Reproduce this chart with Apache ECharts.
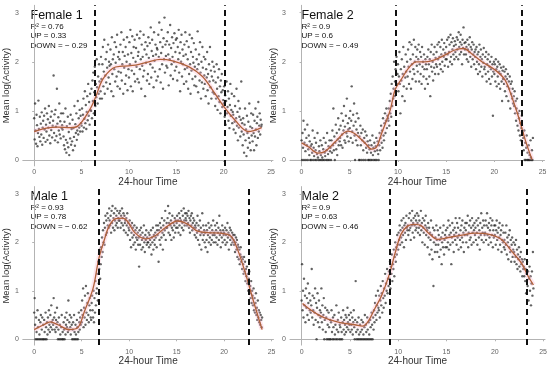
<!DOCTYPE html>
<html><head><meta charset="utf-8">
<script src="https://cdn.jsdelivr.net/npm/echarts@6/dist/echarts.min.js"></script>
<style>html,body{margin:0;padding:0;background:#fff}#c{width:550px;height:367px}</style>
</head><body><div id="c"></div>
<script>
// Panel titles and stats
const panelTitles = ["Female 1", "Female 2", "Male 1", "Male 2"];
const r2Values = ["0.76", "0.9", "0.93", "0.9"];
const upValues = ["0.33", "0.6", "0.78", "0.63"];
const downValues = ["0.29", "0.49", "0.62", "0.46"];
const xTicks = [0, 5, 10, 15, 20, 25];
const yTicks = [0, 1, 2, 3];
const timeStep = 0.05; // hours between successive samples

// dashed change-point lines (hours)
const cutFemale1 = [6.44, 20.06];
const cutFemale2 = [9.75, 22.82];
const cutMale1 = [6.78, 22.58];
const cutMale2 = [9.14, 23.28];

// smooth fits [hour, value]
const fitFemale1 = [[0,0.58],[1.3,0.65],[2.5,0.67],[3.8,0.66],[4.6,0.69],[5.85,1.02],[6.5,1.29],[7.2,1.63],[8.3,1.87],[9.3,1.91],[10.7,1.93],[12.1,2.0],[13.3,2.05],[14.6,2.02],[16.3,1.9],[17.7,1.71],[18.7,1.46],[20,1.09],[21.2,0.81],[22.6,0.58],[24,0.66]];
const fitFemale2 = [[0,0.35],[0.7,0.27],[1.7,0.14],[2.4,0.17],[3.5,0.37],[4.8,0.59],[5.5,0.54],[6.6,0.34],[7.3,0.22],[7.8,0.27],[8.3,0.54],[9.2,1.02],[9.7,1.43],[10.4,1.66],[11.1,1.87],[11.9,2.0],[12.8,2.0],[13.8,2.04],[14.9,2.14],[15.9,2.24],[16.8,2.27],[17.6,2.17],[18.7,2.0],[20.1,1.83],[21.1,1.63],[21.8,1.29],[22.5,0.88],[23.2,0.41],[23.9,0.01]];
const fitMale1 = [[0,0.2],[1,0.3],[1.7,0.36],[2.5,0.3],[3.7,0.2],[4.6,0.24],[5.3,0.58],[6.2,1.05],[6.8,1.66],[7.4,2.06],[7.9,2.34],[8.6,2.49],[9.3,2.5],[9.8,2.44],[10.6,2.2],[11.7,2.07],[12.7,2.13],[13.8,2.3],[15.1,2.44],[16.2,2.37],[17.2,2.23],[18.3,2.2],[19.6,2.19],[20.7,2.13],[21.4,1.86],[22.2,1.39],[23.1,0.78],[24,0.2]];
const fitMale2 = [[0.1,0.74],[0.7,0.64],[1.7,0.51],[2.8,0.41],[4.1,0.34],[5.5,0.3],[6.3,0.27],[6.9,0.37],[7.6,0.64],[8.3,0.91],[9.1,1.35],[9.7,1.79],[10.3,2.17],[11,2.34],[11.7,2.37],[12.4,2.34],[13.1,2.2],[14.1,2.06],[15.2,2.1],[16.6,2.15],[17.9,2.19],[19.3,2.17],[20.7,2.06],[21.7,1.83],[22.8,1.56],[23.4,1.32],[24,1.12]];

// Activity samples, one row per hour (every 0.05 h), plus final value at 24 h
const actFemale1 = [
0.85,0.42,1.15,0.60,0.33,0.92,0.71,0.28,0.55,1.21,0.63,0.47,0.88,0.38,0.74,0.52,0.97,0.31,0.66,0.80,
0.45,0.90,0.62,1.05,0.37,0.72,0.58,0.95,0.41,0.83,0.66,1.10,0.50,0.76,0.34,0.88,0.61,0.99,0.46,0.70,
0.80,1.72,0.55,0.93,0.40,1.02,0.68,0.49,1.45,0.74,0.36,0.87,0.60,1.15,0.52,0.79,0.44,0.95,0.65,0.71,
0.62,0.95,0.48,0.30,0.78,0.22,1.05,0.41,0.15,0.69,0.35,0.88,0.26,0.57,0.10,0.74,0.44,0.92,0.31,0.63,
0.38,0.82,0.20,0.65,0.47,1.10,0.29,0.73,0.55,0.95,0.41,0.60,1.20,0.52,0.85,0.66,1.02,0.58,0.90,0.75,
0.70,1.05,0.58,0.92,1.25,0.66,0.84,1.40,0.75,1.12,0.63,0.98,1.30,0.81,1.55,0.90,1.18,0.72,1.35,1.02,
1.00,1.45,0.85,1.62,1.20,1.78,0.95,1.38,1.90,1.10,1.55,1.28,2.05,1.48,1.15,1.70,1.35,1.95,1.60,1.25,
1.40,2.10,1.65,1.25,1.95,2.30,1.50,1.80,2.45,1.35,1.72,2.05,1.58,2.20,1.88,1.45,2.35,1.68,2.00,1.92,
1.55,2.25,1.95,1.40,2.50,1.75,2.05,1.30,2.15,1.85,2.40,1.60,1.98,2.30,1.70,2.55,1.50,2.10,1.80,2.20,
2.05,1.45,2.35,1.78,2.60,1.62,1.95,2.20,1.35,2.45,1.88,2.12,1.55,2.30,1.72,2.00,2.50,1.42,2.15,1.85,
1.68,2.40,1.95,2.65,1.50,2.18,1.82,2.52,1.40,2.08,2.30,1.75,2.45,1.60,2.00,2.28,1.90,2.55,1.65,2.12,
2.20,1.58,2.48,1.85,2.62,2.05,1.45,2.35,1.92,2.10,1.70,2.55,1.82,2.25,1.30,2.40,1.98,2.15,1.62,2.32,
1.75,2.50,2.08,1.55,2.38,1.95,2.70,1.68,2.22,2.45,1.88,2.12,1.48,2.60,2.02,1.80,2.35,2.15,1.62,2.28,
2.25,1.70,2.55,2.10,2.80,1.85,2.40,1.58,2.18,2.65,1.95,2.30,1.45,2.48,2.05,2.90,1.78,2.35,2.12,1.92,
2.42,1.88,2.60,2.15,1.52,2.35,2.05,2.75,1.72,2.28,1.95,2.50,2.10,1.65,2.38,2.00,2.58,1.82,2.20,2.45,
1.90,2.48,1.62,2.30,2.05,2.65,1.78,2.18,1.40,2.40,2.00,2.55,1.70,2.25,1.95,2.12,1.55,2.35,1.85,2.60,
2.15,1.60,2.42,1.88,2.05,1.45,2.30,1.75,2.55,1.95,1.35,2.20,1.82,2.48,1.65,2.10,1.98,2.38,1.52,1.90,
1.70,2.25,1.50,2.05,1.85,2.62,1.38,1.95,2.15,1.62,2.40,1.78,1.25,2.00,1.58,2.30,1.88,1.45,2.10,1.72,
1.55,2.05,1.30,1.85,1.68,2.20,1.42,1.75,1.15,1.95,1.60,2.30,1.48,1.82,1.25,1.70,2.00,1.38,1.62,1.90,
1.35,1.80,1.10,1.58,1.25,1.95,1.45,1.02,1.68,1.30,1.85,1.18,1.50,0.95,1.62,1.38,1.75,1.08,1.42,1.22,
1.15,1.50,0.88,1.32,0.72,1.20,1.60,0.95,1.08,1.40,0.80,1.25,0.65,1.12,1.55,0.90,1.02,1.35,0.75,0.98,
0.92,0.62,1.30,0.78,1.10,0.55,0.85,1.45,0.70,0.98,0.40,1.20,0.66,0.88,1.05,0.48,0.82,1.60,0.58,0.75,
0.30,0.85,0.52,0.15,0.72,1.05,0.40,0.62,0.08,0.90,0.55,0.25,0.78,0.45,1.15,0.35,0.68,0.20,0.95,0.50,
0.65,0.38,0.92,0.55,0.20,0.80,0.48,1.05,0.62,0.30,0.75,0.88,0.45,1.18,0.58,0.70,0.95,0.52,0.82,0.68,
0.72];
const actFemale2 = [
0.40,0.00,0.55,0.25,0.80,0.00,0.35,0.62,0.18,0.00,0.45,0.30,0.72,0.00,0.22,0.50,0.10,0.38,0.00,0.28,
0.00,0.32,0.15,0.60,0.00,0.25,0.08,0.45,0.00,0.20,0.35,0.00,0.12,0.55,0.05,0.00,0.28,0.18,0.00,0.40,
0.10,0.00,0.30,0.05,0.00,0.22,0.45,0.00,0.15,0.08,0.35,0.00,0.20,0.55,0.00,0.12,0.28,0.00,0.40,0.18,
0.25,0.00,0.40,0.15,0.60,0.30,1.05,0.20,0.48,0.00,0.35,0.72,0.22,0.55,0.10,0.42,0.85,0.30,0.62,0.38,
0.45,0.70,0.30,0.95,0.52,0.25,0.80,0.60,1.10,0.40,0.68,0.35,0.90,0.55,1.25,0.48,0.75,0.62,0.38,0.85,
0.65,1.00,0.45,0.80,1.50,0.58,0.35,0.92,0.70,1.15,0.50,0.00,0.78,0.40,0.62,0.95,0.30,0.55,0.85,0.00,
0.48,0.00,0.70,0.30,0.55,0.00,0.40,0.62,0.20,0.00,0.45,0.35,0.58,0.00,0.25,0.50,0.15,0.38,0.00,0.30,
0.00,0.22,0.40,0.00,0.15,0.30,0.00,0.50,0.10,0.25,0.00,0.35,0.18,0.00,0.28,0.45,0.00,0.20,0.38,0.12,
0.00,0.30,0.55,0.20,0.45,0.70,0.35,0.60,0.25,0.85,0.50,0.40,0.75,0.95,0.55,0.80,1.05,0.65,0.90,0.85,
0.80,1.05,0.70,1.20,0.95,1.35,0.88,1.55,1.10,1.70,1.25,1.45,2.00,1.30,1.60,1.85,1.40,2.10,1.55,1.75,
1.95,1.40,1.70,2.20,1.55,0.95,1.85,1.62,2.05,1.30,1.75,2.30,1.50,1.90,1.20,1.68,2.15,1.80,1.45,2.00,
1.70,2.25,1.90,1.55,2.40,1.80,2.05,1.45,2.35,1.95,1.65,2.15,1.85,2.45,1.75,2.00,2.30,1.60,2.10,1.92,
2.25,1.80,2.05,2.35,1.60,1.95,2.20,1.75,2.10,1.55,2.30,1.90,2.00,1.70,2.15,1.85,1.45,2.05,1.95,1.65,
1.85,2.10,1.55,2.25,1.95,1.70,2.05,1.30,2.20,1.90,2.35,1.80,2.00,1.62,2.15,1.88,2.30,1.75,2.08,1.95,
2.20,1.90,2.35,2.05,1.75,2.40,2.10,1.95,2.30,1.85,2.15,2.45,2.00,1.80,2.25,2.10,2.38,1.92,2.18,2.05,
2.30,2.05,2.45,2.15,1.90,2.50,2.20,2.35,2.00,2.55,2.10,2.40,1.95,2.25,2.48,2.15,2.32,2.05,2.42,2.20,
2.35,2.10,2.50,2.25,2.45,2.05,2.60,2.30,2.15,2.40,2.55,2.20,2.35,1.95,2.45,2.28,2.70,2.15,2.38,2.25,
2.40,2.15,2.30,2.05,2.45,2.25,2.00,2.35,2.20,2.50,2.10,2.30,1.90,2.25,2.40,2.05,2.15,2.35,1.95,2.20,
2.10,2.25,1.85,2.30,2.00,2.15,1.75,2.20,1.95,2.35,1.80,2.10,2.25,1.90,2.05,1.70,2.15,1.98,2.28,1.85,
1.90,2.10,1.75,2.20,1.60,1.95,2.05,1.80,2.15,1.65,1.90,2.00,1.55,1.85,2.10,1.70,1.95,0.90,1.80,2.00,
1.75,1.95,1.60,2.05,1.85,1.50,1.90,1.70,2.00,1.55,1.80,1.95,1.45,1.75,1.88,1.60,1.20,1.82,1.65,1.90,
1.55,1.80,1.40,1.70,1.85,1.30,1.65,1.50,1.75,1.20,1.60,1.45,1.70,1.05,1.55,1.35,1.60,1.25,1.45,1.15,
1.30,1.10,1.40,0.95,1.20,0.80,1.05,1.25,0.70,0.95,0.60,0.85,1.00,0.50,0.75,0.40,0.65,0.90,0.30,0.55,
0.45,0.20,0.60,0.00,0.35,0.00,0.25,0.50,0.00,0.15,0.00,0.30,0.00,0.10,0.00,0.40,0.05,0.00,0.20,0.00,
0.45];
const actMale1 = [
0.55,0.85,0.30,0.00,0.45,0.15,0.00,0.60,0.25,0.00,0.40,0.10,0.00,0.35,0.50,0.00,0.20,0.45,0.00,0.30,
0.00,0.40,0.15,0.00,0.55,0.25,0.00,0.35,0.10,0.45,0.20,0.60,0.30,0.15,0.50,0.25,0.70,0.35,0.20,0.40,
0.30,0.85,0.45,0.20,0.55,0.15,0.40,0.25,0.65,0.35,0.00,0.20,0.45,0.00,0.30,0.10,0.00,0.25,0.50,0.00,
0.15,0.00,0.35,0.20,0.00,0.45,0.10,0.30,0.55,0.25,0.40,0.15,0.80,0.20,0.35,0.50,0.25,0.10,0.45,0.30,
0.00,0.20,0.35,0.00,0.50,0.15,0.00,0.30,0.10,0.00,0.40,0.25,0.00,0.15,0.55,0.35,0.20,0.45,0.30,0.60,
0.35,0.80,0.50,1.05,0.25,0.65,0.45,0.90,0.30,1.10,0.55,0.40,0.75,0.95,0.50,0.35,0.70,0.85,0.60,0.45,
0.40,0.75,0.90,0.60,0.45,1.00,0.35,0.85,0.55,1.20,0.70,0.95,1.05,1.35,0.80,1.60,1.15,1.45,1.85,1.25,
1.55,1.90,1.70,2.10,1.80,2.25,2.00,2.40,1.95,2.30,2.55,2.15,2.45,2.20,2.60,2.35,2.50,2.30,2.70,2.45,
2.35,2.55,2.20,2.65,2.40,2.75,2.30,2.50,2.60,2.25,2.45,2.70,2.35,2.55,2.40,2.65,2.30,2.50,2.45,2.60,
2.45,2.65,2.30,2.55,2.40,2.70,2.50,2.35,2.60,2.25,2.55,2.40,2.45,2.20,2.50,2.35,2.60,2.15,2.40,2.30,
2.25,2.45,2.05,2.35,1.90,2.20,2.40,2.10,2.30,1.95,2.15,2.35,2.00,2.25,1.85,2.10,2.30,2.05,2.20,1.95,
2.10,1.50,2.25,1.95,2.15,2.30,1.85,2.05,2.20,1.90,2.10,2.35,2.00,1.80,2.15,2.05,2.25,1.95,2.10,2.00,
2.00,2.20,1.90,2.15,2.05,1.95,2.25,1.75,2.10,2.00,2.30,1.85,2.15,2.05,1.95,2.20,2.10,2.35,1.90,2.25,
2.15,2.35,1.60,2.25,2.05,2.40,1.95,2.30,2.10,2.50,2.20,1.85,2.35,2.15,2.45,2.25,2.65,2.05,2.30,2.40,
2.30,2.50,2.75,2.20,2.40,2.60,2.15,2.35,2.45,2.05,2.30,2.55,2.25,2.40,2.10,2.35,2.50,2.20,2.45,2.30,
2.40,2.55,2.30,2.45,2.20,2.60,2.35,2.50,2.15,2.45,2.65,2.30,2.40,2.55,2.25,2.70,2.45,2.35,2.60,2.50,
2.45,2.60,2.35,2.55,2.40,2.65,2.30,2.50,2.20,2.45,2.55,2.35,2.60,2.25,2.40,2.50,2.30,2.45,2.15,2.35,
2.30,2.10,2.40,2.20,2.55,2.05,2.35,2.25,1.95,2.45,2.15,2.30,1.85,2.20,2.60,2.05,2.35,2.15,2.25,2.00,
2.20,1.90,2.35,2.05,2.25,1.80,2.15,2.40,2.00,2.30,2.10,2.20,1.95,2.35,2.05,2.25,2.15,2.45,2.00,2.20,
2.15,2.35,2.00,2.25,2.10,2.40,1.95,2.20,2.30,2.05,2.55,2.15,2.25,1.90,2.20,2.10,2.35,2.00,2.25,2.15,
2.20,2.05,2.30,1.95,2.15,2.25,2.00,2.40,2.10,2.20,1.85,2.15,2.30,2.05,2.25,1.95,2.10,2.20,2.00,2.15,
2.05,1.95,2.15,1.80,2.00,2.10,1.85,2.05,1.70,1.95,1.90,1.65,1.85,1.55,1.75,1.90,1.60,1.70,1.45,1.65,
1.55,1.35,1.70,1.40,1.60,1.20,1.45,1.30,1.50,1.15,1.35,1.00,1.25,1.40,0.95,1.10,0.85,1.20,0.75,1.00,
0.90,0.70,1.05,0.60,0.85,0.55,0.75,0.95,0.50,0.65,0.40,0.80,0.45,0.60,0.35,0.55,0.30,0.50,0.40,0.25,
0.45];
const actMale2 = [
0.80,1.55,0.60,1.00,0.45,1.25,0.70,0.90,0.35,1.05,0.65,0.85,0.50,1.15,0.75,0.40,0.95,0.60,0.80,0.55,
0.70,1.45,0.45,0.90,0.60,0.30,0.85,0.55,1.05,0.40,0.75,0.00,0.65,0.95,0.35,0.50,0.80,0.25,0.60,0.45,
0.55,1.05,0.35,0.70,0.20,0.50,0.85,0.00,0.40,0.65,0.15,0.45,0.00,0.60,0.30,0.00,0.55,0.25,0.00,0.40,
0.00,0.35,0.60,0.15,0.00,0.45,0.25,0.00,0.50,0.10,0.30,0.00,0.70,0.20,0.00,0.40,0.15,0.55,0.00,0.30,
0.25,0.00,0.45,0.15,0.00,0.35,0.60,0.20,0.40,0.10,0.30,0.50,0.15,0.45,0.25,0.65,0.35,0.20,0.50,0.30,
0.40,0.15,0.55,0.30,0.20,0.45,0.10,0.35,0.60,0.25,0.00,0.40,1.20,0.15,0.00,0.35,0.20,0.00,0.45,0.10,
0.00,0.30,0.15,0.00,0.40,0.20,0.00,0.35,0.10,0.00,0.25,0.50,0.00,0.30,0.15,0.00,0.45,0.20,0.00,0.35,
0.10,0.00,0.40,0.25,0.00,0.55,0.30,0.00,0.45,0.20,0.60,0.35,0.75,0.50,0.90,0.40,0.70,0.55,1.00,0.65,
0.60,0.90,0.45,0.80,1.10,0.70,0.95,0.55,1.20,0.85,0.65,1.05,0.90,1.35,0.75,1.15,1.00,1.45,0.95,1.25,
1.10,1.40,1.25,1.60,1.05,1.50,1.35,1.75,1.20,1.55,1.45,1.85,1.30,1.70,2.00,1.60,1.90,1.75,2.15,1.95,
1.85,2.20,2.05,2.35,1.95,2.25,2.10,2.45,2.00,2.30,2.15,2.50,1.90,2.35,2.20,2.40,2.05,2.55,2.30,2.25,
2.35,2.15,2.50,2.25,2.60,2.30,2.05,2.45,2.35,2.65,2.20,2.40,2.50,2.10,2.35,2.55,2.25,2.45,2.30,2.60,
2.40,2.20,2.55,2.30,2.45,2.15,2.35,2.65,2.25,2.40,2.00,2.50,2.30,2.20,2.45,1.95,2.35,2.55,2.15,2.30,
2.25,1.90,2.40,2.10,2.30,1.75,2.20,2.05,2.45,1.85,2.15,1.65,2.30,1.10,2.00,2.25,1.80,2.10,1.95,2.35,
2.05,1.80,2.25,1.95,2.15,1.70,2.05,2.30,1.85,2.10,1.55,2.00,2.20,1.90,2.35,1.75,2.05,2.15,1.90,2.25,
2.10,1.90,2.30,2.00,2.45,1.85,2.15,2.35,1.95,2.20,1.55,2.10,2.40,2.00,2.25,1.80,2.15,2.30,2.05,2.50,
2.20,1.95,2.40,2.10,2.30,1.85,2.15,2.50,2.05,2.25,1.90,2.35,2.10,2.45,2.00,2.20,1.80,2.30,2.15,2.40,
2.25,2.00,2.40,2.15,2.55,1.90,2.20,2.35,2.05,2.45,2.10,2.30,1.95,2.50,2.20,2.35,2.00,2.25,2.40,2.15,
2.30,2.05,2.45,2.20,1.95,2.35,2.50,2.10,2.25,1.85,2.40,2.15,2.60,2.05,2.30,2.20,2.45,2.00,2.35,2.15,
2.20,2.45,2.05,2.35,2.60,2.15,2.30,1.95,2.40,2.10,2.25,2.50,2.00,2.35,2.15,2.45,1.90,2.25,2.10,2.35,
2.15,2.35,1.95,2.25,2.45,2.05,2.20,1.85,2.30,2.10,2.40,1.95,2.15,2.25,1.80,2.05,2.35,2.00,2.20,1.90,
2.05,1.85,2.20,1.95,2.35,1.75,2.10,2.00,1.65,2.15,1.90,2.25,1.80,2.05,1.60,1.95,2.10,1.70,1.85,2.00,
1.80,1.60,1.95,1.70,2.05,1.55,1.85,1.45,1.75,1.65,1.90,1.50,1.70,1.40,1.80,1.55,1.65,1.30,1.60,1.45,
1.50,1.30,1.65,1.20,1.45,0.95,1.35,1.60,1.10,1.40,0.80,1.25,1.50,1.00,1.30,0.70,1.15,1.40,0.90,1.80,
1.05];

const activity = [actFemale1, actFemale2, actMale1, actMale2];
const fits = [fitFemale1, fitFemale2, fitMale1, fitMale2];
const cuts = [cutFemale1, cutFemale2, cutMale1, cutMale2];

const grids = [
  {left: 19, top: 5.3, width: 254, height: 160.6},
  {left: 290, top: 5.3, width: 254.5, height: 160.6},
  {left: 19, top: 186.6, width: 254.5, height: 161},
  {left: 290, top: 186.6, width: 255, height: 161}
];

const xAxes = [], yAxes = [], series = [], graphics = [];
const FONT = 'Liberation Sans, Arial, sans-serif';
grids.forEach((g, i) => {
  xAxes.push({
    gridIndex: i, type: 'value', min: -1.2, max: 25.2,
    name: '24-hour Time', nameLocation: 'middle', nameGap: 7,
    nameTextStyle: {fontSize: 10, color: '#333', fontFamily: FONT, verticalAlign: 'top'},
    splitLine: {show: false},
    axisLine: {show: true, lineStyle: {color: '#b3b3b3', width: 1}},
    axisTick: {show: true, length: 2, lineStyle: {color: '#b3b3b3'}, customValues: xTicks},
    axisLabel: {fontSize: 7, color: '#666', margin: 3, fontFamily: FONT, customValues: xTicks}
  });
  yAxes.push({
    gridIndex: i, type: 'value', min: -0.12, max: 3.15,
    name: 'Mean log(Activity)', nameLocation: 'middle', nameGap: 7, nameRotate: 90,
    nameTextStyle: {fontSize: 9.5, color: '#333', fontFamily: FONT, verticalAlign: 'bottom'},
    splitLine: {show: false},
    axisLine: {show: true, lineStyle: {color: '#b3b3b3', width: 1}},
    axisTick: {show: true, length: 2, lineStyle: {color: '#b3b3b3'}, customValues: yTicks},
    axisLabel: {fontSize: 7, color: '#666', margin: 4, fontFamily: FONT, customValues: yTicks}
  });
  const pts = activity[i].map((v, k) => [k * timeStep, v]);
  series.push({
    type: 'scatter', xAxisIndex: i, yAxisIndex: i, data: pts,
    symbolSize: 2.4, itemStyle: {color: 'rgba(25,25,25,0.85)'}, silent: true,
    markLine: {
      silent: true, symbol: 'none', label: {show: false},
      lineStyle: {color: '#111', width: 2, type: [6, 4]},
      data: cuts[i].map(c => ({xAxis: c}))
    }
  });
  series.push({
    type: 'line', xAxisIndex: i, yAxisIndex: i, data: fits[i], smooth: 0.35,
    showSymbol: false, silent: true,
    lineStyle: {color: 'rgba(255,175,200,0.3)', width: 5}
  });
  series.push({
    type: 'line', xAxisIndex: i, yAxisIndex: i, data: fits[i], smooth: 0.35,
    showSymbol: false, silent: true,
    lineStyle: {color: '#b0603a', width: 1.3}
  });
  const tx = g.left + 11.5;
  graphics.push({type: 'text', left: tx, top: g.top + 3.5, style: {text: panelTitles[i], font: '12.5px ' + FONT, fill: '#111'}});
  graphics.push({type: 'text', left: tx, top: g.top + 17, style: {text: 'R² = ' + r2Values[i], font: '8px ' + FONT, fill: '#111'}});
  graphics.push({type: 'text', left: tx, top: g.top + 26.3, style: {text: 'UP = ' + upValues[i], font: '8px ' + FONT, fill: '#111'}});
  graphics.push({type: 'text', left: tx, top: g.top + 36, style: {text: 'DOWN = − ' + downValues[i], font: '8px ' + FONT, fill: '#111'}});
});

const chart = echarts.init(document.getElementById('c'), null, {renderer: 'canvas'});
chart.setOption({
  animation: false,
  backgroundColor: '#fff',
  grid: grids,
  xAxis: xAxes,
  yAxis: yAxes,
  series: series,
  graphic: graphics
});
</script></body></html>
